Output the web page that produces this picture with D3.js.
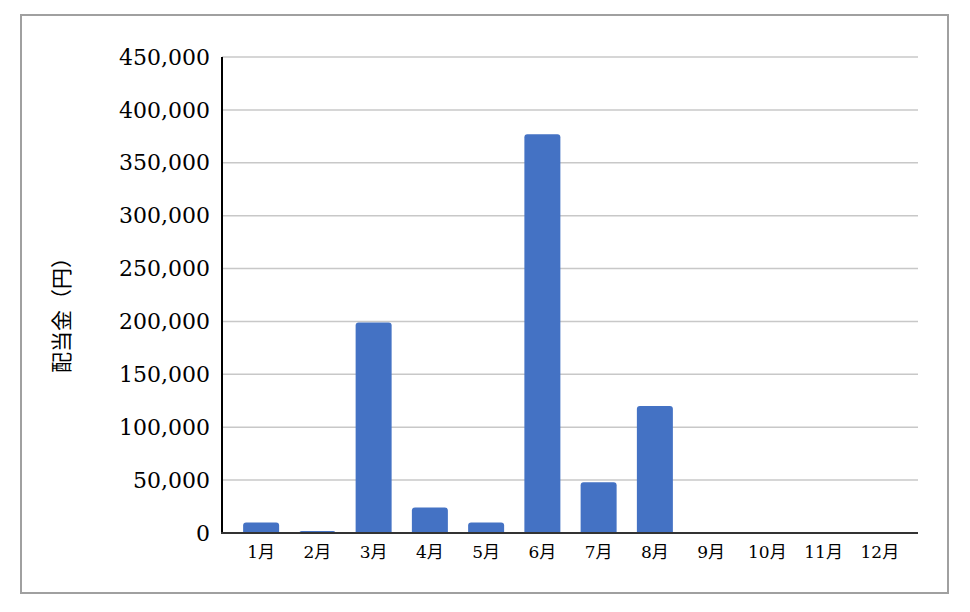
<!DOCTYPE html>
<html>
<head>
<meta charset="utf-8">
<script src="https://cdn.jsdelivr.net/npm/d3@7"></script>
<style>
  body { margin: 0; background: #fff; }
</style>
</head>
<body>
<div id="chart"></div>
<script>
// data
var months = ['1月', '2月', '3月', '4月', '5月', '6月', '7月', '8月', '9月', '10月', '11月', '12月'];
var dividends = [10000, 2000, 199000, 24000, 10000, 377000, 48000, 120000, 0, 0, 0, 0];
var yTicks = [0, 50000, 100000, 150000, 200000, 250000, 300000, 350000, 400000, 450000];
var yTitle = '配当金（円）';

var svgWidth = 970;
var svgHeight = 612;

var plot = { left: 222, right: 918, top: 57, bottom: 533 };

var svg = d3.select('#chart')
    .append('svg')
    .attr('width', svgWidth)
    .attr('height', svgHeight);

// outer frame
svg.append('rect')
    .attr('x', 21)
    .attr('y', 15)
    .attr('width', 927)
    .attr('height', 578)
    .attr('fill', '#fff')
    .attr('stroke', '#a0a0a0')
    .attr('stroke-width', 2);

var yScale = d3.scaleLinear()
    .domain([0, 450000])
    .range([plot.bottom, plot.top]);

var xScale = d3.scaleBand()
    .domain(months)
    .range([233, 908])
    .paddingInner(0.36)
    .paddingOuter(0.18);

// gridlines
svg.append('g')
    .selectAll('line')
    .data(yTicks.filter(d => d > 0))
    .enter()
    .append('line')
    .attr('x1', plot.left)
    .attr('x2', plot.right)
    .attr('y1', d => yScale(d))
    .attr('y2', d => yScale(d))
    .attr('stroke', '#c8c8c8')
    .attr('stroke-width', 1.5);

// y axis labels
var fmt = d3.format(',');
svg.append('g')
    .selectAll('text')
    .data(yTicks)
    .enter()
    .append('text')
    .attr('x', 210)
    .attr('y', d => yScale(d))
    .attr('dy', '0.35em')
    .attr('text-anchor', 'end')
    .attr('font-family', '"DejaVu Serif", "Liberation Serif", serif')
    .attr('font-size', 22)
    .attr('fill', '#000')
    .text(d => fmt(d));

// bars, top corners rounded
var r = 3;
svg.append('g')
    .selectAll('path')
    .data(dividends)
    .enter()
    .append('path')
    .attr('fill', '#4472c4')
    .attr('d', function (d, i) {
        var x0 = xScale(months[i]);
        var w = xScale.bandwidth();
        var y0 = yScale(d);
        var h = plot.bottom - y0;
        if (h <= 0) return null;
        var rr = Math.min(r, h);
        return 'M' + x0 + ',' + plot.bottom +
            'V' + (y0 + rr) +
            'Q' + x0 + ',' + y0 + ' ' + (x0 + rr) + ',' + y0 +
            'H' + (x0 + w - rr) +
            'Q' + (x0 + w) + ',' + y0 + ' ' + (x0 + w) + ',' + (y0 + rr) +
            'V' + plot.bottom + 'Z';
    });

// y axis line
svg.append('line')
    .attr('x1', plot.left)
    .attr('x2', plot.left)
    .attr('y1', plot.top)
    .attr('y2', plot.bottom)
    .attr('stroke', '#000')
    .attr('stroke-width', 2);

// x axis line
svg.append('line')
    .attr('x1', plot.left - 1)
    .attr('x2', plot.right)
    .attr('y1', plot.bottom)
    .attr('y2', plot.bottom)
    .attr('stroke', '#333')
    .attr('stroke-width', 2);

// month labels
svg.append('g')
    .selectAll('text')
    .data(months)
    .enter()
    .append('text')
    .attr('x', d => xScale(d) + xScale.bandwidth() / 2)
    .attr('y', 552)
    .attr('dy', '0.35em')
    .attr('text-anchor', 'middle')
    .attr('font-family', '"DejaVu Serif", "Noto Sans CJK JP", serif')
    .attr('font-size', 17)
    .attr('fill', '#000')
    .text(d => d);

// y axis title
svg.append('text')
    .attr('transform', 'translate(62, 310) rotate(-90)')
    .attr('text-anchor', 'middle')
    .attr('dy', '0.35em')
    .attr('font-family', '"Noto Sans CJK JP", sans-serif')
    .attr('font-size', 21)
    .attr('fill', '#000')
    .text(yTitle);
</script>
</body>
</html>
